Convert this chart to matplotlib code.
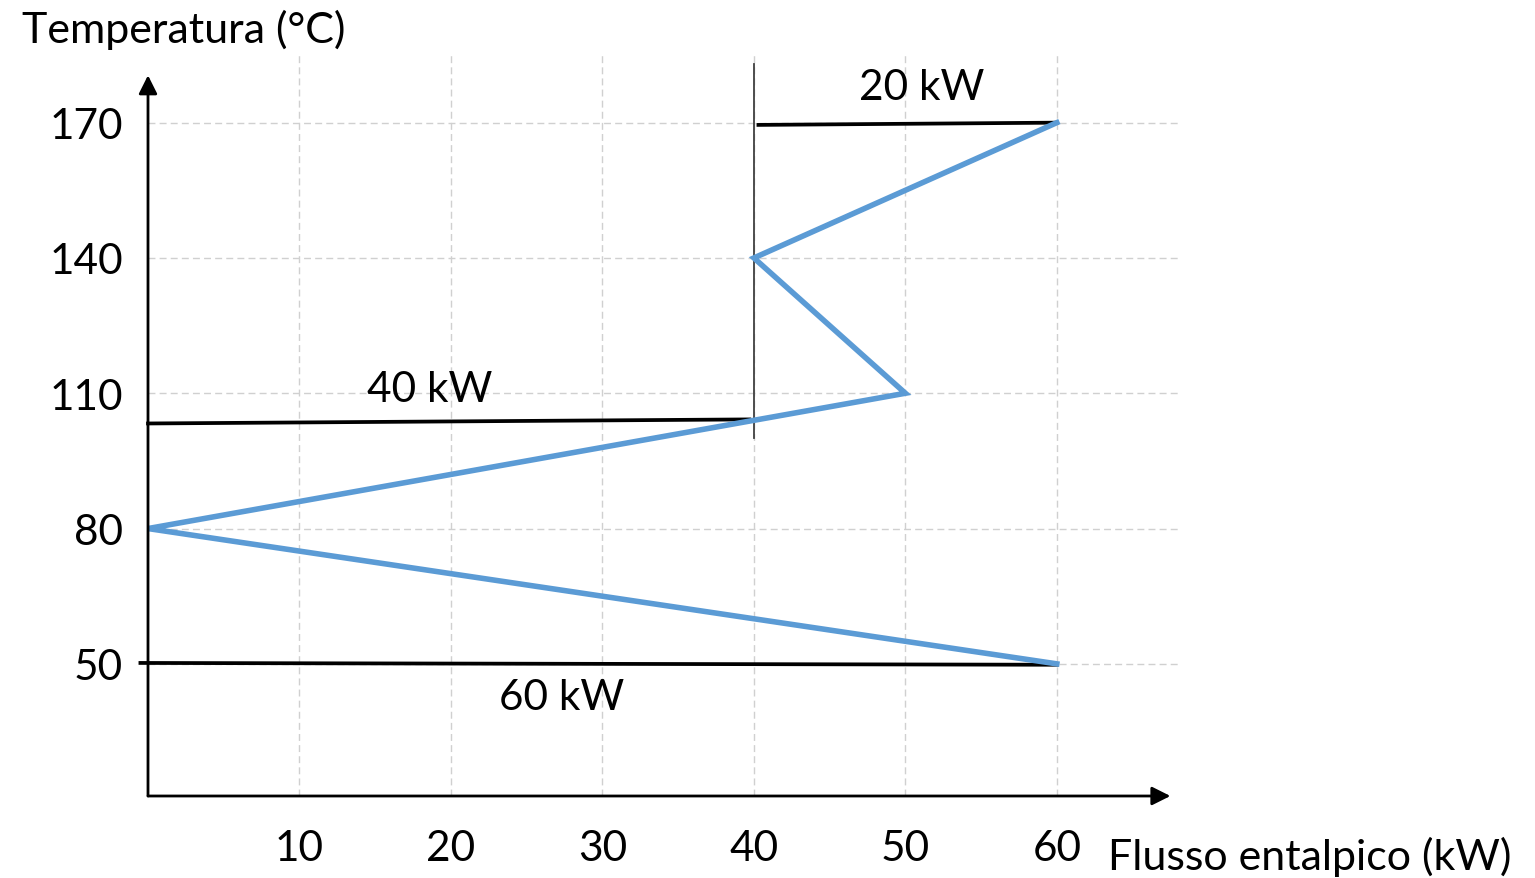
import matplotlib
matplotlib.use("Agg")
import matplotlib.pyplot as plt

plt.rcParams['font.family'] = ['Lato', 'DejaVu Sans']

# Data
curve_x = [60, 40, 50, 0, 60]          # composite curve enthalpy flow (kW)
curve_t = [170, 140, 110, 80, 50]      # temperature (°C)

hot_line_x = [40.3, 60]
hot_line_t = [169.5, 170]
mid_line_x = [0, 39.7]
mid_line_t = [103.3, 104.2]
cold_line_x = [-0.5, 60]
cold_line_t = [50.2, 49.8]

pinch_x = [40, 40]
pinch_t = [183, 100.0]

x_ticks = [10, 20, 30, 40, 50, 60]
y_ticks = [50, 80, 110, 140, 170]

labels = ["20 kW", "40 kW", "60 kW"]
label_x = [51.1, 18.6, 27.3]
label_t = [178, 111, 42.7]

fig = plt.figure(figsize=(15.35, 8.79), dpi=100)
ax = fig.add_axes([148/1535, 82/879, (1178-148)/1535, (797-56)/879])
ax.set_xlim(0, 68)
ax.set_ylim(20.7, 185)

for s in ax.spines.values():
    s.set_visible(False)

ax.set_xticks(x_ticks)
ax.set_yticks(y_ticks)
ax.tick_params(length=0, labelsize=30.5)
ax.tick_params(axis='x', pad=24)
ax.tick_params(axis='y', pad=18)
ax.grid(True, color='#d0d0d0', linestyle=(0, (5, 3)), linewidth=1.0)

# axes with arrows
ax.annotate('', xy=(67.5, 20.7), xytext=(0, 20.7),
            arrowprops=dict(arrowstyle='-|>', color='black', lw=2, mutation_scale=28,
                            shrinkA=0, shrinkB=0), annotation_clip=False)
ax.annotate('', xy=(0, 180.5), xytext=(0, 20.7),
            arrowprops=dict(arrowstyle='-|>', color='black', lw=2, mutation_scale=28,
                            shrinkA=0, shrinkB=0), annotation_clip=False)

ax.plot(pinch_x, pinch_t, color='#404040', lw=1.3, clip_on=False)
ax.plot(hot_line_x, hot_line_t, color='black', lw=2.7, clip_on=False)
ax.plot(mid_line_x, mid_line_t, color='black', lw=2.7, clip_on=False)
ax.plot(cold_line_x, cold_line_t, color='black', lw=2.7, clip_on=False)
ax.plot(curve_x, curve_t, color='#5B9BD5', lw=4.0, clip_on=False, solid_joinstyle='miter')

for lab, lx, lt in zip(labels, label_x, label_t):
    ax.text(lx, lt, lab, fontsize=30.5, ha='center', va='center')

fig.text(22/1535, 1 - 30/879, 'Temperatura (°C)', fontsize=31, ha='left', va='center')
fig.text(1108/1535, 1 - 857/879, 'Flusso entalpico (kW)', fontsize=31, ha='left', va='center')

fig.savefig('out.png', dpi=100)
